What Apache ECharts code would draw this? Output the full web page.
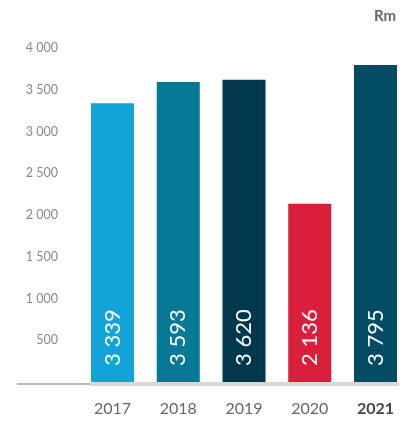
<!DOCTYPE html>
<html>
<head>
<meta charset="utf-8">
<script src="https://cdn.jsdelivr.net/npm/echarts@6/dist/echarts.min.js"></script>
<style>
  html, body { margin: 0; padding: 0; background: #fff; }
  #chart { width: 404px; height: 421px; }
</style>
</head>
<body>
<div id="chart"></div>
<script>
// data
const years = ['2017', '2018', '2019', '2020', '2021']
const values = [3339, 3593, 3620, 2136, 3795]
const barColors = ['#12a3d9', '#077896', '#02384d', '#da1f3d', '#024b65']
const yTicks = [0, 500, 1000, 1500, 2000, 2500, 3000, 3500, 4000]

// 千位空格分隔
function fmt(v) {
  return String(v).replace(/\B(?=(\d{3})+(?!\d))/g, ' ')
}

const myChart = echarts.init(document.getElementById('chart'))
const option = {
  animation: false,
  textStyle: { fontFamily: 'Lato' },
  // 柱中心对齐网格两端
  grid: { left: 112.5, right: 28.5, top: 48, bottom: 39 },
  xAxis: {
    type: 'category',
    data: years,
    boundaryGap: false,
    axisLine: { show: false },
    axisTick: { show: false },
    axisLabel: {
      interval: 0,
      margin: 19,
      fontSize: 16,
      color: '#666',
      formatter: (v) => v === '2021' ? '{b|' + v + '}' : v,
      rich: { b: { fontWeight: 'bold', color: '#444', fontSize: 16, fontFamily: 'Lato' } }
    }
  },
  yAxis: {
    type: 'value',
    min: yTicks[0],
    max: yTicks[yTicks.length - 1],
    interval: 500,
    splitLine: { show: false },
    axisLine: { show: false },
    axisTick: { show: false },
    axisLabel: {
      margin: 54.5,
      fontSize: 12.5,
      color: '#888',
      formatter: (v) => v === 0 ? '' : fmt(v)
    }
  },
  graphic: [
    // 左侧灰线
    { type: 'rect', shape: { x: 17, y: 383, width: 73, height: 2 }, style: { fill: '#b9b9b9' }, z: 10 },
    // 柱子下方底座
    { type: 'rect', shape: { x: 90, y: 382, width: 309, height: 4 }, style: { fill: '#dcd8d0' }, z: 10 },
    {
      type: 'text', right: 8, top: 9,
      style: { text: 'Rm', fontSize: 15, fontWeight: 'bold', fill: '#666', fontFamily: 'Lato' }
    }
  ],
  series: [{
    type: 'bar',
    barWidth: 43,
    data: values.map((v, i) => ({ value: v, itemStyle: { color: barColors[i] } })),
    label: {
      show: true,
      position: 'insideBottom',
      rotate: 90,
      align: 'left',
      verticalAlign: 'middle',
      distance: 16,
      color: '#fff',
      fontSize: 22,
      fontFamily: 'Lato',
      formatter: (p) => fmt(p.value)
    }
  }]
}
myChart.setOption(option)
</script>
</body>
</html>
